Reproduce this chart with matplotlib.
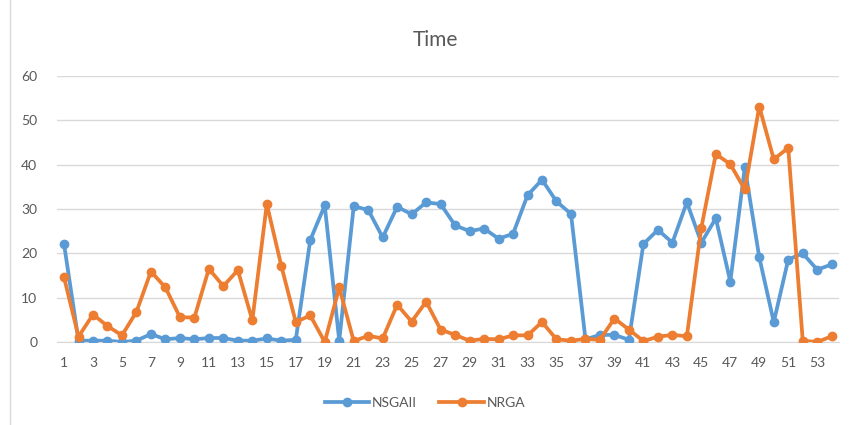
import numpy as np
import matplotlib
matplotlib.use("Agg")
import matplotlib.pyplot as plt
from matplotlib.patches import Rectangle

# values
runs = list(range(1, 55))
nsgaii = [22.1, 0.3, 0.3, 0.3, 0.0, 0.3, 1.8, 0.6, 0.9, 0.6,
          0.9, 0.9, 0.3, 0.3, 0.8, 0.3, 0.5, 23.0, 30.8, 0.3,
          30.6, 29.8, 23.6, 30.5, 28.8, 31.5, 31.1, 26.3, 25.0, 25.6,
          23.3, 24.4, 33.1, 36.6, 31.7, 28.9, 0.6, 1.6, 1.6, 0.5,
          22.1, 25.3, 22.4, 31.5, 22.4, 27.9, 13.6, 39.4, 19.1, 4.5,
          18.6, 20.0, 16.3, 17.5]
nrga = [14.6, 1.2, 6.2, 3.6, 1.5, 6.8, 15.9, 12.3, 5.6, 5.5,
        16.5, 12.6, 16.2, 4.9, 31.1, 17.2, 4.5, 6.0, 0.0, 12.3,
        0.2, 1.4, 0.8, 8.4, 4.6, 9.1, 2.8, 1.6, 0.3, 0.7,
        0.6, 1.5, 1.5, 4.5, 0.6, 0.3, 0.7, 0.5, 5.3, 2.8,
        0.2, 1.2, 1.6, 1.3, 25.8, 42.4, 40.1, 34.4, 53.1, 41.2,
        43.8, 0.3, 0.0, 1.3]
xtick_labels = [str(v) for v in range(1, 55, 2)]

blue = "#5B9BD5"
orange = "#ED7D31"
grey_text = "#595959"

plt.rcParams['font.family'] = ['Lato', 'DejaVu Sans']

fig = plt.figure(figsize=(8.5, 4.25), dpi=100)
ax = fig.add_axes([0.0668, 0.1953, 0.9202, 0.6259])

ax.plot(runs, nsgaii, color=blue, lw=2.7, marker='o', ms=6, label='NSGAII',
        solid_joinstyle='round', zorder=3)
ax.plot(runs, nrga, color=orange, lw=2.7, marker='o', ms=6, label='NRGA',
        solid_joinstyle='round', zorder=4)

ax.set_xlim(0.5, 54.5)
ax.set_ylim(0, 60)
ax.set_yticks(range(0, 61, 10))
ax.set_xticks(range(1, 55, 2))
ax.set_xticklabels(xtick_labels)
ax.grid(axis='y', color='#D9D9D9', lw=1)
ax.set_axisbelow(True)
for side in ['top', 'right', 'left']:
    ax.spines[side].set_visible(False)
ax.spines['bottom'].set_color('#D9D9D9')
ax.tick_params(length=0, labelsize=10, colors=grey_text)
ax.tick_params(axis='x', pad=11)
ax.tick_params(axis='y', pad=14)

fig.text(0.512, 0.905, 'Time', ha='center', va='center', fontsize=15,
         color=grey_text)

fig.legend(loc='center', bbox_to_anchor=(0.5, 0.052), ncol=2, frameon=False,
           fontsize=10, handlelength=3.2, columnspacing=1.6, handletextpad=0.2,
           labelcolor=grey_text)

# chart frame remnant on the left
fig.patches.append(Rectangle((0.012, -0.01), 1.2, 1.2, transform=fig.transFigure,
                             fill=False, edgecolor='#D9D9D9', lw=1))

fig.savefig('out.png', dpi=100, facecolor='white')
